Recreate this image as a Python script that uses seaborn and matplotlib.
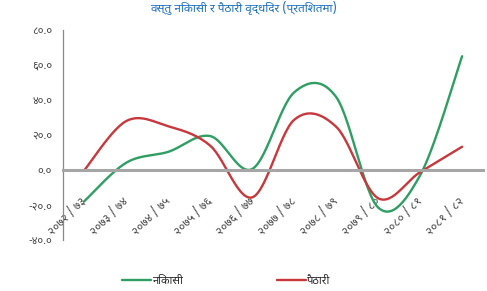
import numpy as np
import pandas as pd
import matplotlib
matplotlib.use("Agg")
import matplotlib.pyplot as plt
import seaborn as sns

# fiscal years (Nepali), growth rates in percent
years = ["२०७२/७३", "२०७३/७४", "२०७४/७५", "२०७५/७६", "२०७६/७७",
         "२०७७/७८", "२०७८/७९", "२०७९/८०", "२०८०/८१", "२०८१/८२"]
exports = [-17.8, 4.2, 10.4, 19.4, 0.6, 44.4, 41.7, -21.4, -3.0, 65.0]
imports = [-0.1, 28.0, 25.0, 13.9, -15.6, 28.7, 24.7, -16.1, -1.2, 13.3]
yticks = [-40, -20, 0, 20, 40, 60, 80]

title = "वस्तु निकासी र पैठारी वृद्धिदर (प्रतिशतमा)"
labels = ["निकासी", "पैठारी"]
colors = ["#2e9e63", "#c8373c"]

DEV = str.maketrans("0123456789", "०१२३४५६७८९")


def smooth(y, n=30):
    # bezier smoothing like a spreadsheet "smoothed line"
    y = np.asarray(y, dtype=float)
    x = np.arange(len(y), dtype=float)
    xs, ys = [], []
    for i in range(len(y) - 1):
        p0 = np.array([x[max(i - 1, 0)], y[max(i - 1, 0)]])
        p1 = np.array([x[i], y[i]])
        p2 = np.array([x[i + 1], y[i + 1]])
        p3 = np.array([x[min(i + 2, len(y) - 1)], y[min(i + 2, len(y) - 1)]])
        c1 = p1 + (p2 - p0) / 6
        c2 = p2 - (p3 - p1) / 6
        t = np.linspace(0, 1, n)[:, None]
        pts = (1 - t) ** 3 * p1 + 3 * (1 - t) ** 2 * t * c1 + 3 * (1 - t) * t ** 2 * c2 + t ** 3 * p2
        xs.extend(pts[:, 0])
        ys.extend(pts[:, 1])
    return np.array(xs), np.array(ys)


sns.set_style("white")
plt.rcParams["font.family"] = ["Noto Sans Devanagari", "Mukta", "DejaVu Sans"]

fig = plt.figure(figsize=(4.87, 2.91), dpi=100)
ax = fig.add_axes([0.13, 0.175, 0.862, 0.722])

for vals, lab, col in zip([exports, imports], labels, colors):
    sx, sy = smooth(vals)
    sns.lineplot(x=sx, y=sy, ax=ax, color=col, lw=1.7, label=lab, sort=False)

# spine position first: moving it resets the ticks
for s in ["top", "right"]:
    ax.spines[s].set_visible(False)
ax.spines["bottom"].set_position(("data", 0))
ax.spines["bottom"].set_color("#a6a6a6")
ax.spines["bottom"].set_linewidth(2.2)
ax.spines["left"].set_color("#888888")
ax.spines["left"].set_linewidth(0.9)

ax.set_xlim(-0.5, len(years) - 0.5)
ax.set_ylim(-40, 80)
ax.tick_params(axis="x", which="major", length=0, pad=21)
ax.tick_params(axis="x", which="minor", length=4, width=1, color="#888888", direction="out")
ax.tick_params(axis="y", length=3, color="#888888", direction="out", pad=5)

ax.set_yticks(yticks)
ax.set_yticklabels([("%.1f" % v).translate(DEV) for v in yticks], fontsize=8, color="#444444")
ax.set_xticks(range(len(years)))
ax.set_xticks(np.arange(0.5, len(years) - 0.5, 1), minor=True)
ax.set_xticklabels([y.replace("/", " / ") for y in years], fontsize=8.5, color="#444444")
plt.setp(ax.get_xticklabels(), rotation=45, ha="right", va="center", rotation_mode="anchor")
ax.set_xlabel("")
ax.set_ylabel("")

ax.legend_.remove()
h, l = ax.get_legend_handles_labels()
fig.legend(h, l, loc="lower left", bbox_to_anchor=(0.23, -0.02), ncol=2, frameon=False,
           fontsize=8, handlelength=2.6, handletextpad=0.1, columnspacing=8.5)

fig.text(0.5, 1.0, title, ha="center", va="top", fontsize=8.5, fontweight="bold", color="#1a6fc4")

fig.savefig("out.png", dpi=100)
